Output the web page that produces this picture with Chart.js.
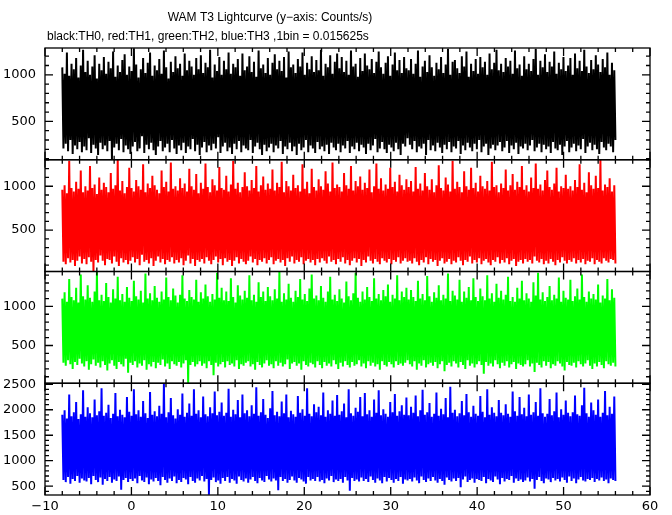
<!DOCTYPE html>
<html>
<head>
<meta charset="utf-8">
<script src="https://cdn.jsdelivr.net/npm/chart.js"></script>
<style>
  html, body { margin: 0; padding: 0; background: #fff; }
  #wrap { width: 672px; height: 515px; }
</style>
</head>
<body>
<div id="wrap"><canvas id="lc" width="672" height="515"></canvas></div>
<script>
// texts
const titleText = "WAM T3 Lightcurve (y\u2212axis: Counts/s)";
const subText = "black:TH0, red:TH1, green:TH2, blue:TH3 ,1bin = 0.015625s";

// time span of the curve (s)
const tStart = -8;
const tEnd = 56;

// counts/s (alternating upper / lower envelope)
const th0Counts = [
  1080,210,1010,260,1240,180,990,300,1120,150,1060,240,1180,200,970,280,1100,170,1270,230,
  1030,190,1150,320,1000,160,1090,250,1210,210,960,140,1120,270,1050,200,1190,240,1010,180,
  1140,290,1070,90,1250,220,980,260,1100,190,1030,310,1160,170,1220,240,1000,200,1090,150,
  1040,230,1285,280,1110,180,970,210,1060,340,1180,160,1020,250,1130,200,1240,270,990,190,
  1100,140,1050,230,1170,290,1010,180,1260,220,1080,260,960,170,1140,300,1030,210,1200,150,
  1070,240,1120,190,990,270,1230,160,1050,230,1150,200,1090,310,1000,180,1180,250,1060,140,
  1210,220,1020,280,1130,170,1080,240,1270,190,970,260,1110,210,1040,330,1190,160,1000,230,
  1150,270,1060,180,1240,220,1010,150,1120,260,1080,200,1170,290,990,170,1230,240,1050,210,
  1090,190,1200,300,1030,160,1140,230,980,270,1260,200,1070,140,1110,250,1020,180,1180,220,
  1000,260,1130,170,1220,240,1060,210,1150,290,1040,150,1190,230,970,200,1250,270,1080,180,
  1110,230,1020,140,1170,260,1090,190,1240,220,1000,300,1130,170,1060,240,1200,210,1030,160,
  1160,280,1050,200,1270,230,990,180,1120,250,1080,150,1210,270,1010,220,1140,190,1230,260,
  1070,170,1190,240,1030,210,1150,290,1000,160,1260,230,1090,200,1120,270,980,180,1180,250,
  1040,220,1230,150,1100,260,1060,190,1170,240,1020,310,1140,170,1250,210,1080,280,1010,200,
  1130,160,1200,250,990,220,1110,180,1240,270,1050,200,1160,140,1020,260,1190,230,1070,320,
  1050,250,1170,200,1010,290,1120,170,1260,230,980,210,1090,260,1150,140,1030,300,1210,190,
  1080,240,990,180,1130,270,1060,220,1190,160,1020,250,1110,200,1280,280,1000,170,1140,230,
  1160,210,1070,290,1020,150,1200,240,1090,190,1250,270,980,220,1120,180,1040,260,1170,200,
  1010,300,1190,170,1080,230,1140,260,1000,140,1230,210,1060,250,1130,190,1270,240,1050,280,
  1120,180,1030,220,1180,290,1090,160,1150,240,1010,200,1260,270,1070,150,1110,230,990,210,
  1200,260,1060,190,1120,240,1040,300,1170,180,1280,220,1000,260,1150,170,1080,250,1220,200,
  1030,230,1140,160,1090,280,1250,210,1010,190,1130,250,1060,140,1190,230,1040,290,1100,170,
  1180,220,1000,260,1230,180,1070,240,1150,200,1040,310,1270,160,1090,230,1020,270,1160,190,
  1060,250,1210,200,1110,150,1030,280,1170,220,1080,190,1240,260,1000,230,1130,170,1050,300
];
const th1Counts = [
  960,140,1010,110,920,180,1290,130,980,160,940,90,1050,150,970,200,1180,120,930,170,
  1000,110,950,190,1230,140,980,30,1020,160,910,130,1100,210,960,150,1040,100,990,170,
  930,160,1150,120,970,200,1010,140,1300,90,950,180,1060,130,920,160,990,110,1210,150,
  980,190,940,130,1070,170,1000,100,960,220,1250,140,930,160,1030,120,980,180,1120,90,
  1010,150,960,200,920,130,1180,170,990,110,1050,160,940,140,1270,190,970,120,1000,160,
  950,130,1090,180,980,100,1030,150,940,210,1200,120,1000,170,960,90,1140,160,920,140,
  1040,170,970,120,1260,190,990,150,930,110,1080,160,1010,200,950,130,1220,170,980,100,
  960,180,1120,140,940,160,1020,90,1290,150,970,190,1040,120,930,170,990,140,1160,110,
  1000,150,950,200,1070,130,980,170,1230,100,940,160,1010,140,1110,180,960,120,1030,160,
  970,190,1190,110,950,150,1040,170,990,130,1280,160,930,90,1060,180,1000,140,950,200,
  1130,120,980,160,1010,140,940,190,1250,110,970,150,1050,170,920,130,1200,160,990,100,
  950,170,1080,130,1000,180,960,150,1170,120,1030,200,940,140,1270,160,980,110,1020,170,
  990,140,940,190,1150,120,1010,160,970,100,1230,150,950,180,1060,130,1000,170,1110,90,
  960,160,1040,130,980,200,1190,150,930,120,1000,170,1260,140,970,110,1090,180,950,150,
  1020,130,970,170,1210,110,990,160,1050,140,940,190,1130,120,1010,150,960,180,1080,140,
  990,150,1060,120,940,180,1220,140,970,100,1030,160,950,130,1150,190,1000,110,960,170,
  1080,140,930,160,1010,90,1240,150,980,180,950,120,1100,140,1020,170,940,110,1290,150,
  970,130,1050,190,990,150,930,100,1170,160,1000,140,960,200,1210,120,980,160,1040,130,
  940,180,1120,110,1000,150,970,170,1060,130,950,100,1280,160,990,140,1010,190,930,120,
  1030,160,980,130,1190,180,950,110,1010,150,1140,170,960,90,1050,140,990,160,1230,120,
  960,170,1010,140,940,160,1100,120,980,200,1260,150,970,130,1020,170,950,110,1070,150,
  1180,120,990,170,960,140,1030,100,1210,160,940,130,1000,190,980,150,1130,120,970,160,
  1000,140,950,180,1070,120,990,160,1250,130,960,170,1040,110,930,150,1160,140,1010,180,
  970,110,1120,160,980,140,1300,120,950,180,1020,150,990,130,1090,170,940,160,1010,120
];
const th2Counts = [
  1100,280,1180,240,1060,310,1350,260,1120,200,1080,290,1240,250,1050,330,1410,270,1130,230,
  1090,300,1270,190,1110,260,1060,320,1190,240,1445,280,1080,220,1150,300,1070,250,1300,180,
  1120,270,1050,310,1220,240,1100,200,1380,290,1080,260,1160,230,1060,330,1250,150,1110,280,
  1070,250,1330,300,1130,220,1090,270,1200,240,1050,310,1420,190,1100,260,1170,230,1080,290,
  1260,210,1110,280,1060,250,1190,320,1090,230,1370,270,1120,200,1080,300,1230,260,1140,240,
  1050,290,1150,220,1400,270,1100,310,1070,20,1210,250,1120,290,1090,230,1340,260,1060,300,
  1180,240,1100,270,1280,210,1130,300,1060,250,1160,120,1090,280,1430,230,1110,260,1240,290,
  1080,220,1190,300,1070,250,1360,270,1120,230,1050,310,1270,200,1140,260,1090,240,1200,280,
  1110,300,1400,230,1080,260,1150,190,1060,290,1310,250,1120,220,1190,270,1070,310,1250,240,
  1130,260,1080,210,1220,300,1100,240,1440,280,1060,230,1170,260,1090,320,1290,200,1110,270,
  1060,290,1200,240,1120,270,1350,190,1090,300,1160,250,1070,230,1230,280,1410,260,1100,220,
  1140,300,1080,250,1260,210,1110,290,1060,240,1190,270,1380,230,1090,310,1150,260,1070,200,
  1220,280,1100,230,1050,300,1320,250,1130,220,1080,290,1170,240,1430,260,1110,310,1060,230,
  1190,270,1090,210,1250,300,1120,240,1070,280,1360,230,1100,260,1160,190,1080,300,1210,250,
  1130,230,1280,290,1060,260,1150,220,1100,300,1400,250,1080,270,1190,240,1120,280,1240,310,
  1090,260,1210,230,1120,300,1070,190,1330,270,1100,240,1160,310,1080,220,1390,260,1130,280,
  1060,240,1180,290,1110,210,1270,260,1080,300,1150,170,1100,250,1420,280,1070,230,1200,300,
  1140,270,1090,220,1340,290,1060,250,1190,200,1110,310,1250,240,1080,270,1360,220,1120,260,
  1070,300,1230,250,1130,140,1080,290,1400,240,1100,270,1170,230,1060,310,1290,260,1110,210,
  1200,280,1090,240,1150,300,1380,220,1070,260,1120,290,1060,200,1240,270,1100,250,1330,230,
  1080,260,1170,310,1100,230,1060,270,1310,160,1140,280,1430,250,1090,220,1180,300,1070,240,
  1120,290,1260,210,1080,260,1150,240,1100,300,1370,270,1060,230,1200,180,1110,290,1090,250,
  1340,240,1070,280,1130,220,1230,300,1090,260,1410,230,1120,270,1060,310,1190,240,1100,200,
  1160,270,1090,230,1280,290,1050,250,1140,210,1100,300,1350,260,1080,240,1220,280,1110,230
];
const th3Counts = [
  1900,620,1990,580,1830,680,2300,550,1870,640,1950,600,2150,700,1820,570,1910,650,2380,610,
  1860,590,2050,660,1930,540,1850,700,2200,620,1890,580,1970,670,2420,530,1880,640,1940,600,
  2100,680,1840,570,1920,630,2330,600,1870,690,2000,430,1900,620,1850,660,2250,580,1960,640,
  1880,600,2400,650,1910,560,1990,700,1860,610,2170,580,1930,670,1840,540,2350,630,1900,590,
  1970,660,1870,600,2080,520,1920,680,2510,620,1850,570,1950,650,2230,600,1890,690,1830,560,
  2010,620,1900,580,2320,660,1860,630,1940,540,2120,680,1880,600,2400,570,1920,650,1990,610,
  1850,700,2260,590,1910,640,1870,330,2050,620,1930,670,2360,580,1890,610,1960,550,2140,660,
  1880,600,1940,680,2410,570,1860,640,2000,610,1910,550,2190,690,1850,620,2300,590,1930,650,
  1990,570,1870,630,2090,680,1920,600,2440,560,1880,660,1950,610,2210,580,1900,700,1840,630,
  2030,590,2370,650,1890,610,1960,420,1870,680,2160,600,1930,640,2300,570,1850,620,1980,690,
  1910,610,1860,570,2270,660,1940,630,2010,590,1880,550,2420,680,1920,610,1870,640,2110,600,
  1950,680,2060,590,1890,620,2340,560,1860,650,1990,610,1920,700,2180,580,1880,630,2290,600,
  1900,640,1970,570,2120,680,1850,610,2400,410,1930,660,1880,600,2040,630,1960,590,2250,670,
  1870,600,2330,640,1910,580,1990,690,1860,620,2200,570,1940,650,2380,610,1890,560,2010,680,
  1920,590,1860,660,2150,620,1950,570,2310,640,1880,600,1970,680,2090,550,1900,630,2240,610,
  1890,640,2060,590,1940,670,2280,610,1870,560,1990,690,2390,620,1900,580,1950,650,2130,600,
  1860,680,1920,610,2340,570,1880,640,2020,600,1910,530,2230,670,1850,620,2450,590,1940,650,
  2000,600,1870,660,1930,480,2170,630,1890,690,2310,580,1950,620,1860,650,2080,570,1920,640,
  1880,620,2270,600,1960,680,1850,560,2400,640,1900,610,2050,580,1940,690,1870,630,2190,540,
  1940,660,1890,590,2110,640,1920,620,1860,700,2360,570,1970,650,1880,600,2250,630,1910,580,
  2040,610,1870,670,2300,590,1900,640,1950,450,2150,620,1880,680,2420,600,1930,560,1860,650,
  1920,630,2210,580,1890,660,1970,610,2340,640,1850,590,2010,670,1900,620,2180,570,1940,690,
  1870,600,1950,650,2280,560,1910,630,1880,680,2090,610,2430,590,1930,640,1860,620,2140,660,
  1990,580,1900,640,2200,610,1860,670,1940,600,2370,630,1890,560,2060,650,1920,620,2260,600
];

// tick labels
const xTickValues = [-10, 0, 10, 20, 30, 40, 50, 60];
const th0Ticks = [500, 1000];
const th1Ticks = [500, 1000];
const th2Ticks = [500, 1000];
const th3Ticks = [500, 1000, 1500, 2000, 2500];

const panels = [
  { id: 'y0', counts: th0Counts, ticks: th0Ticks, color: '#000000', min: 88, max: 1288 },
  { id: 'y1', counts: th1Counts, ticks: th1Ticks, color: '#ff0000', min: 28, max: 1302 },
  { id: 'y2', counts: th2Counts, ticks: th2Ticks, color: '#00ff00', min: 17, max: 1447 },
  { id: 'y3', counts: th3Counts, ticks: th3Ticks, color: '#0000ff', min: 327, max: 2520 }
];

function toPoints(counts) {
  const dt = (tEnd - tStart) / (counts.length - 1);
  return counts.map((v, i) => ({ x: tStart + i * dt, y: v }));
}

const tickFont = { family: 'DejaVu Sans', size: 13 };

const scales = {
  x: {
    type: 'linear', min: -10, max: 60,
    grid: { display: false, drawTicks: false }, border: { display: false },
    afterBuildTicks: s => { s.ticks = xTickValues.map(v => ({ value: v })); },
    afterFit: s => { s.height = 20; },
    ticks: { color: '#000', font: tickFont, padding: 4, maxRotation: 0, autoSkip: false,
             callback: v => String(v).replace('-', '\u2212') }
  }
};
// stacked left axes are laid out last-first, so add them bottom panel first
panels.slice().reverse().forEach(p => {
  scales[p.id] = {
    type: 'linear', position: 'left', stack: 'wam', stackWeight: 1,
    min: p.min, max: p.max,
    grid: { display: false, drawTicks: false }, border: { display: false },
    afterBuildTicks: s => { s.ticks = p.ticks.map(v => ({ value: v })); },
    afterFit: s => { s.width = 45; },
    ticks: { color: '#000', font: tickFont, padding: 9, autoSkip: false, callback: v => String(v) }
  };
});

// frames + inward ticks on all sides of each panel, plus the two text lines
const framePlugin = {
  id: 'frames',
  afterDatasetsDraw(chart) {
    const ctx = chart.ctx;
    const area = chart.chartArea;
    const xs = chart.scales.x;
    ctx.save();
    ctx.strokeStyle = '#000';
    ctx.lineWidth = 1.3;
    panels.forEach(p => {
      const s = chart.scales[p.id];
      ctx.strokeRect(area.left, s.top, area.right - area.left, s.bottom - s.top);
      ctx.beginPath();
      for (let v = Math.ceil(s.min / 100) * 100; v <= s.max; v += 100) {
        const py = s.getPixelForValue(v);
        const len = v % 500 === 0 ? 8 : 4;
        ctx.moveTo(area.left, py); ctx.lineTo(area.left + len, py);
        ctx.moveTo(area.right, py); ctx.lineTo(area.right - len, py);
      }
      for (let t = -10; t <= 60; t += 2) {
        const px = xs.getPixelForValue(t);
        const len = t % 10 === 0 ? 8 : 4;
        ctx.moveTo(px, s.top); ctx.lineTo(px, s.top + len);
        ctx.moveTo(px, s.bottom); ctx.lineTo(px, s.bottom - len);
      }
      ctx.stroke();
    });
    ctx.restore();
  },
  afterDraw(chart) {
    const ctx = chart.ctx;
    ctx.save();
    ctx.fillStyle = '#000';
    ctx.font = '12px "Liberation Sans", Arial, sans-serif';
    ctx.textBaseline = 'alphabetic';
    ctx.textAlign = 'center';
    ctx.fillText(titleText, 270, 21);
    ctx.textAlign = 'left';
    ctx.fillText(subText, 47, 40);
    ctx.restore();
  }
};

new Chart(document.getElementById('lc').getContext('2d'), {
  type: 'line',
  data: {
    datasets: panels.map(p => ({
      data: toPoints(p.counts),
      yAxisID: p.id,
      borderColor: p.color,
      borderWidth: 2,
      borderJoinStyle: 'bevel',
      pointRadius: 0,
      tension: 0,
      fill: false
    }))
  },
  options: {
    responsive: false,
    animation: false,
    layout: { padding: { top: 48, right: 22, left: 0, bottom: 0 } },
    plugins: { legend: { display: false }, title: { display: false }, tooltip: { enabled: false } },
    scales: scales
  },
  plugins: [framePlugin]
});
</script>
</body>
</html>
